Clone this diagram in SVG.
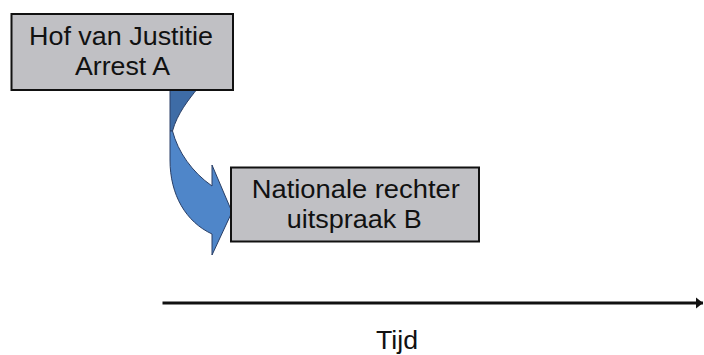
<svg xmlns="http://www.w3.org/2000/svg" width="704" height="355" viewBox="0 0 704 355">
  <style>
    .box { fill: #c0c0c4; stroke: #111; stroke-width: 2; }
    .lbl { font-family: "Liberation Sans", Arial, sans-serif; font-size: 25.5px; fill: #111; text-anchor: middle; }
    .back { fill: #3e6ca6; stroke: #2a3f66; stroke-width: 1; stroke-linejoin: round; }
    .front { fill: #4f86c9; stroke: #2a3f66; stroke-width: 1; stroke-linejoin: round; }
  </style>
  <defs>
    <marker id="ah" markerWidth="8" markerHeight="12" refX="7" refY="6" orient="auto" markerUnits="userSpaceOnUse">
      <path d="M0,0.5 L7,6 L0,11.5 Z" fill="#111"/>
    </marker>
  </defs>
  <rect width="704" height="355" fill="#ffffff"/>
  <g id="connectors">
    <path class="back" d="M170,88 L198,88 C189,99 177,114 172.5,131 L170,131 Z"/>
    <path class="front" d="M172.5,131 C178,152 192,172 212,186 L212,165 L232,212 L212,255 L212,234 C186,222 170,195 170,160 L170,131 Z"/>
  </g>
  <g id="timeline">
    <line x1="162.5" y1="303" x2="703" y2="303" stroke="#111" stroke-width="3" marker-end="url(#ah)"/>
    <text class="lbl" x="397" y="349.3" font-size="24" textLength="42" lengthAdjust="spacingAndGlyphs">Tijd</text>
  </g>
  <g id="node-hof">
    <rect class="box" x="11.5" y="14" width="221.5" height="76"/>
    <text class="lbl" x="121" y="45" textLength="184" lengthAdjust="spacingAndGlyphs">Hof van Justitie</text>
    <text class="lbl" x="122.5" y="75" textLength="95" lengthAdjust="spacingAndGlyphs">Arrest A</text>
  </g>
  <g id="node-nationale">
    <rect class="box" x="231" y="167.5" width="248" height="74"/>
    <text class="lbl" x="355.8" y="197.7" textLength="208" lengthAdjust="spacingAndGlyphs">Nationale rechter</text>
    <text class="lbl" x="354.2" y="228.3" textLength="135" lengthAdjust="spacingAndGlyphs">uitspraak B</text>
  </g>
</svg>
